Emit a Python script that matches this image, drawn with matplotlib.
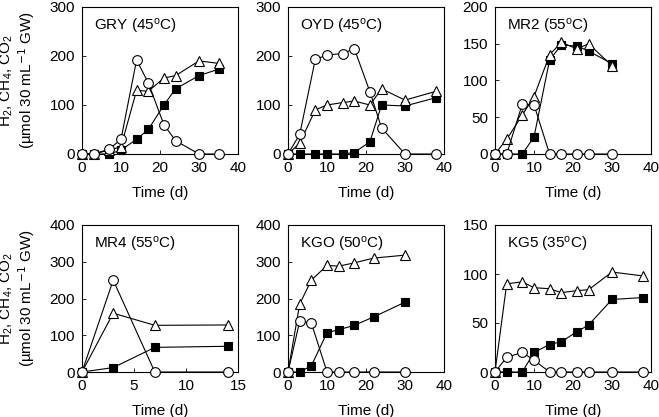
import numpy as np
import matplotlib.pyplot as plt

plt.rcParams['font.family'] = ['Liberation Sans', 'DejaVu Sans']
plt.rcParams['mathtext.fontset'] = 'custom'
plt.rcParams['mathtext.rm'] = 'Liberation Sans'
plt.rcParams['mathtext.it'] = 'Liberation Sans:italic'

# panel data: (title, ylim, yticks, xlim, xticks, days, H2 circles, CO2 triangles, CH4 squares)
gry_days = [0, 3, 7, 10, 14, 17, 21, 24, 30, 35]
gry_circ = [0, 0, 10, 30, 192, 145, 60, 27, 0, 0]
gry_tri = [0, 0, 8, 15, 130, 128, 155, 160, 190, 185]
gry_sq = [0, 0, 0, 8, 30, 50, 100, 133, 160, 173]

oyd_days = [0, 3, 7, 10, 14, 17, 21, 24, 30, 38]
oyd_circ = [0, 40, 193, 202, 205, 215, 127, 53, 0, 0]
oyd_tri = [0, 22, 90, 100, 105, 108, 100, 133, 110, 128]
oyd_sq = [0, 0, 0, 0, 0, 3, 25, 100, 98, 115]

mr2_days = [0, 3, 7, 10, 14, 17, 21, 24, 30]
mr2_circ = [0, 0, 68, 67, 0, 0, 0, 0, 0]
mr2_tri = [0, 20, 53, 78, 135, 152, 143, 150, 120]
mr2_sq = [0, 0, 0, 23, 128, 148, 147, 140, 123]

mr4_days = [0, 3, 7, 14]
mr4_circ = [0, 250, 0, 0]
mr4_tri = [0, 160, 127, 128]
mr4_sq = [0, 12, 67, 70]

kgo_days = [0, 3, 6, 10, 13, 17, 22, 30]
kgo_circ = [0, 138, 133, 0, 0, 0, 0, 0]
kgo_tri = [0, 185, 250, 290, 288, 297, 310, 318]
kgo_sq = [0, 0, 17, 107, 115, 127, 150, 190]

kg5_days = [0, 3, 7, 10, 14, 17, 21, 24, 30, 38]
kg5_circ = [0, 15, 20, 12, 0, 0, 0, 0, 0, 0]
kg5_tri = [0, 90, 92, 86, 85, 81, 83, 84, 102, 98]
kg5_sq = [0, 0, 0, 20, 28, 31, 41, 48, 74, 76]

panels = [
    ('GRY (45$^{\\rm o}$C)', 300, [0, 100, 200, 300], 40, [0, 10, 20, 30, 40], gry_days, gry_circ, gry_tri, gry_sq),
    ('OYD (45$^{\\rm o}$C)', 300, [0, 100, 200, 300], 40, [0, 10, 20, 30, 40], oyd_days, oyd_circ, oyd_tri, oyd_sq),
    ('MR2 (55$^{\\rm o}$C)', 200, [0, 50, 100, 150, 200], 40, [0, 10, 20, 30, 40], mr2_days, mr2_circ, mr2_tri, mr2_sq),
    ('MR4 (55$^{\\rm o}$C)', 400, [0, 100, 200, 300, 400], 15, [0, 5, 10, 15], mr4_days, mr4_circ, mr4_tri, mr4_sq),
    ('KGO (50$^{\\rm o}$C)', 400, [0, 100, 200, 300, 400], 40, [0, 10, 20, 30, 40], kgo_days, kgo_circ, kgo_tri, kgo_sq),
    ('KG5 (35$^{\\rm o}$C)', 150, [0, 50, 100, 150], 40, [0, 10, 20, 30, 40], kg5_days, kg5_circ, kg5_tri, kg5_sq),
]

W, H = 659, 417
fig = plt.figure(figsize=(W / 100, H / 100), dpi=100)

lefts = [82, 288, 495]
tops = [7, 225]
aw, ah = 156, 147

ylab = 'H$_2$, CH$_4$, CO$_2$\n(µmol 30 mL$^{\\mathsf{-1}}$ GW)'

for k, (title, ymax, yt, xmax, xt, d, circ, tri, sq) in enumerate(panels):
    r, c = divmod(k, 3)
    ax = fig.add_axes([lefts[c] / W, 1 - (tops[r] + ah) / H, aw / W, ah / H])
    lw = 0.8
    ax.plot(d, sq, '-s', color='black', lw=lw, ms=6, mfc='black', mec='black', mew=0.8, clip_on=False, zorder=3)
    ax.plot(d, tri, '-^', color='black', lw=lw, ms=7, mfc='white', mec='black', mew=0.8, clip_on=False, zorder=4)
    ax.plot(d, circ, '-o', color='black', lw=lw, ms=7, mfc='white', mec='black', mew=0.8, clip_on=False, zorder=5)
    ax.set_xlim(0, xmax)
    ax.set_ylim(0, ymax)
    ax.set_xticks(xt)
    ax.set_yticks(yt)
    ax.tick_params(direction='in', length=3, width=0.6, labelsize=11, pad=5)
    for s in ax.spines.values():
        s.set_linewidth(0.8)
    ax.text(0.08, 0.93, title, transform=ax.transAxes, ha='left', va='top', fontsize=11)
    ax.set_xlabel('Time (d)', fontsize=11, labelpad=8)
    if c == 0:
        ax.set_ylabel(ylab, fontsize=11, linespacing=1.05)
        ax.yaxis.set_label_coords(-0.29, 0.5)

fig.savefig('out.png', dpi=100)
